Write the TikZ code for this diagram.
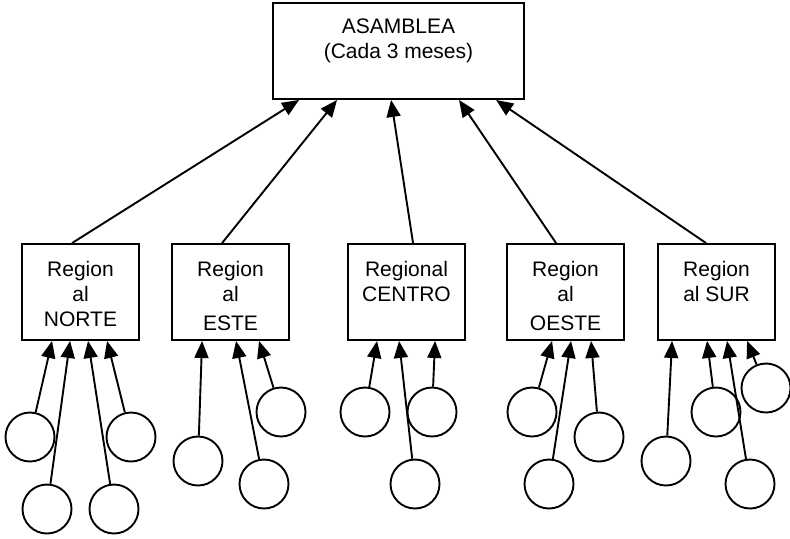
\documentclass[tikz,border=0pt]{standalone}
\usepackage{fontspec}
\setmainfont{Liberation Sans}
\usetikzlibrary{arrows.meta,positioning}

\begin{document}
\begin{tikzpicture}[x=0.5pt, y=-0.5pt, line width=0.95pt, >={Triangle[length=8.5pt,width=7pt]},
  topbox/.style={draw, minimum width=125.5pt, minimum height=48pt},
  regbox/.style={draw, minimum width=58.5pt, minimum height=48pt},
  txt/.style={align=center, inner sep=0pt, font=\fontsize{10.5}{12.5}\selectfont},
  memb/.style={draw, circle, minimum size=24.5pt, inner sep=0pt}]
  \useasboundingbox (0,0) rectangle (790,538);

  % asamblea
  \node[topbox] (asam) at (398.5,51) {};
  \node[txt, below=8pt of asam.north] (asamtxt) {ASAMBLEA\\(Cada 3 meses)};

  % regionales
  \node[regbox] (rnorte) at (80.5,292) {};
  \node[regbox] (reste) at (230.5,292) {};
  \node[regbox] (rcentro) at (406.5,292) {};
  \node[regbox] (roeste) at (565.5,292) {};
  \node[regbox] (rsur) at (716.5,292) {};
  \node[txt, below=8.5pt of rnorte.north] (nortetxt) {Region\\al\\NORTE};
  \begin{scope}
    \clip (172,244) rectangle (289,330);
    \node[txt, below=8.5pt of reste.north] (estetxt) {Region\\al\\[2pt]ESTE};
  \end{scope}
  \node[txt, below=8.5pt of rcentro.north] (centrotxt) {Regional\\CENTRO};
  \begin{scope}
    \clip (507,244) rectangle (624,330);
    \node[txt, below=8.5pt of roeste.north] (oestetxt) {Region\\al\\[2pt]OESTE};
  \end{scope}
  \node[txt, below=8.5pt of rsur.north] (surtxt) {Region\\al SUR};

  \draw[->] ([xshift=25.5pt]rnorte.north west) -- ([xshift=13.5pt]asam.south west);
  \draw[->] ([xshift=25.5pt]reste.north west) -- ([xshift=32.5pt]asam.south west);
  \draw[->] ([xshift=33pt]rcentro.north west) -- ([xshift=59.5pt]asam.south west);
  \draw[->] ([xshift=25pt]roeste.north west) -- ([xshift=93.5pt]asam.south west);
  \draw[->] ([xshift=24.5pt]rsur.north west) -- ([xshift=112pt]asam.south west);

  % miembros norte
  \node[memb] (n1) at (30,437) {};
  \node[memb] (n2) at (47,509) {};
  \node[memb] (n3) at (114,509) {};
  \node[memb] (n4) at (131,437) {};
  \draw[->] (n1) -- ([xshift=15.5pt]rnorte.south west);
  \draw[->] (n2) -- ([xshift=24.5pt]rnorte.south west);
  \draw[->] (n3) -- ([xshift=33.5pt]rnorte.south west);
  \draw[->] (n4) -- ([xshift=43pt]rnorte.south west);

  % miembros este
  \node[memb] (e1) at (198,461) {};
  \node[memb] (e2) at (264,484) {};
  \node[memb] (e3) at (281,412) {};
  \draw[->] (e1) -- ([xshift=15.5pt]reste.south west);
  \draw[->] (e2) -- ([xshift=32.5pt]reste.south west);
  \draw[->] (e3) -- ([xshift=44pt]reste.south west);

  % miembros centro
  \node[memb] (c1) at (365,412) {};
  \node[memb] (c2) at (415,484) {};
  \node[memb] (c3) at (432,412) {};
  \draw[->] (c1) -- ([xshift=15pt]rcentro.south west);
  \draw[->] (c2) -- ([xshift=26pt]rcentro.south west);
  \draw[->] (c3) -- ([xshift=44pt]rcentro.south west);

  % miembros oeste
  \node[memb] (o1) at (532,412) {};
  \node[memb] (o2) at (549,484) {};
  \node[memb] (o3) at (599,437) {};
  \draw[->] (o1) -- ([xshift=23pt]roeste.south west);
  \draw[->] (o2) -- ([xshift=32.5pt]roeste.south west);
  \draw[->] (o3) -- ([xshift=42.5pt]roeste.south west);

  % miembros sur
  \node[memb] (s1) at (666,461) {};
  \node[memb] (s2) at (716,412) {};
  \node[memb] (s3) at (750,484) {};
  \node[memb] (s4) at (766,388) {};
  \draw[->] (s1) -- ([xshift=7.5pt]rsur.south west);
  \draw[->] (s2) -- ([xshift=25pt]rsur.south west);
  \draw[->] (s3) -- ([xshift=35pt]rsur.south west);
  \draw[->] (s4) -- ([xshift=45pt]rsur.south west);
\end{tikzpicture}
\end{document}
